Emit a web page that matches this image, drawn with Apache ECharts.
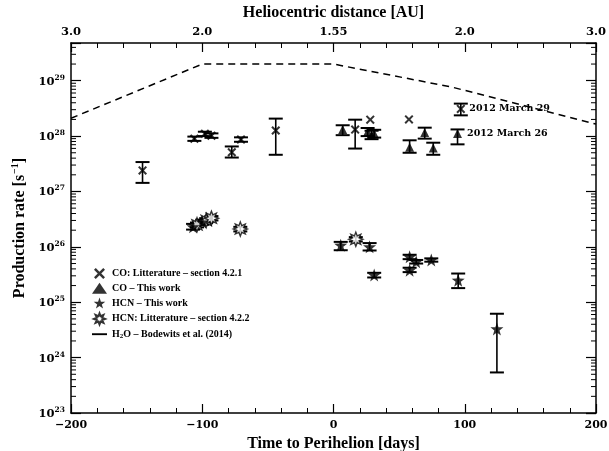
<!DOCTYPE html>
<html><head><meta charset="utf-8">
<script src="https://cdn.jsdelivr.net/npm/echarts@6/dist/echarts.min.js"></script>
<style>html,body{margin:0;padding:0;background:#fff}#c{width:609px;height:451px}</style>
</head><body><div id="c"></div><script>
// ---- axis ticks / labels ----
const dayTicks = [-200, -100, 0, 100, 200];
const topTickLabels = ['3.0', '2.0', '1.55', '2.0', '3.0'];
const yDecades = [23, 24, 25, 26, 27, 28, 29];
const yMin = 1e23, yMax = 4.8e29;

// ---- CO: literature (crosses) ----
const coLitDays = [-145.5, -106, -98, -93, -77.5, -70.5, -44, 16.5, 28, 57.5, 97];
const coLitVals = [2.4e27, 9.0e27, 1.1e28, 1.02e28, 5.1e27, 8.7e27, 1.26e28, 1.31e28, 1.98e28, 2.0e28, 3.1e28];
const coLitLow  = [1.43e27, 8.2e27, 1.0e28, 9.3e27, 4.1e27, 7.9e27, 4.6e27, 5.96e27, null, null, 2.37e28];
const coLitHigh = [3.4e27, 9.8e27, 1.2e28, 1.12e28, 6.5e27, 9.5e27, 2.07e28, 1.98e28, null, null, 3.86e28];

// ---- CO: this work (triangles) ----
const coDays = [7, 26, 29, 31, 58, 69.5, 76, 94.5];
const coVals = [1.31e28, 1.2e28, 1.05e28, 1.12e28, 6.3e27, 1.16e28, 6.1e27, 1.11e28];
const coLow  = [1.04e28, 1.0e28, 8.8e27, 9.4e27, 5.0e27, 9.0e27, 4.6e27, 7.1e27];
const coHigh = [1.57e28, 1.4e28, 1.25e28, 1.3e28, 8.4e27, 1.42e28, 7.6e27, 1.32e28];

// ---- HCN: this work (filled stars) ----
const hcnDays = [-107, -100, 5.5, 27.5, 31, 58, 58, 63, 74.5, 95, 124.5];
const hcnVals = [2.3e26, 2.8e26, 1.07e26, 1.0e26, 3.1e25, 6.6e25, 3.8e25, 5.4e25, 5.8e25, 2.5e25, 3.3e24];
const hcnLow  = [2.05e26, 2.5e26, 8.7e25, 8.6e25, 2.8e25, 6.0e25, 3.5e25, 5.0e25, 5.4e25, 1.8e25, 5.4e23];
const hcnHigh = [2.6e26, 3.1e26, 1.23e26, 1.17e26, 3.4e25, 7.2e25, 4.2e25, 5.8e25, 6.2e25, 3.3e25, 6.2e24];

// ---- HCN: literature (open stars) ----
const hcnLitDays = [-104, -97, -93, -71, 17];
const hcnLitVals = [2.5e26, 3.0e26, 3.3e26, 2.1e26, 1.37e26];
const hcnLitLow  = [2.25e26, 2.7e26, 3.0e26, 1.9e26, 1.25e26];
const hcnLitHigh = [2.75e26, 3.3e26, 3.6e26, 2.3e26, 1.5e26];

// ---- H2O: Bodewits et al. (2014) (dashed) ----
const h2oDays = [-200, -100, 0, 90, 200];
const h2oVals = [2.1e28, 2.0e29, 2.0e29, 7.7e28, 1.65e28];

// ---- annotations ----
const noteMar29 = '2012 March 29';
const noteMar26 = '2012 March 26';

const names = {
  coLit: 'CO: Litterature – section 4.2.1',
  co: 'CO – This work',
  hcn: 'HCN – This work',
  hcnLit: 'HCN: Litterature – section 4.2.2',
  h2o: 'H2O – Bodewits et al. (2014)'
};

const FONT = '"Liberation Serif", "DejaVu Serif", serif';
const NUMFONT = '"DejaVu Serif", "Liberation Serif", serif';

function starPath(n, ro, ri) {
  let d = '';
  for (let i = 0; i < 2 * n; i++) {
    const r = i % 2 ? ri : ro;
    const a = -Math.PI / 2 + i * Math.PI / n;
    d += (i ? 'L' : 'M') + (50 + r * Math.cos(a)).toFixed(2) + ',' + (50 + r * Math.sin(a)).toFixed(2);
  }
  return 'path://' + d + 'Z';
}
const crossPath = 'path://M0,1.6L1.6,0L5,3.4L8.4,0L10,1.6L6.6,5L10,8.4L8.4,10L5,6.6L1.6,10L0,8.4L3.4,5Z';
const star5 = starPath(5, 50, 20);
const star8 = starPath(8, 50, 26);

function pts(days, vals) { return days.map((d, i) => [d, vals[i]]); }

function errSeries(days, lo, hi) {
  const data = [];
  days.forEach((d, i) => { if (lo[i] != null) data.push([d, lo[i], hi[i]]); });
  return {
    type: 'custom', silent: true, z: 3, data: data,
    encode: { x: 0, y: [1, 2] },
    renderItem: function (params, api) {
      const x = api.value(0);
      const p1 = api.coord([x, api.value(1)]);
      const p2 = api.coord([x, api.value(2)]);
      const w = 7;
      const st = { stroke: '#000', lineWidth: 1.6 };
      return { type: 'group', children: [
        { type: 'line', shape: { x1: p1[0], y1: p1[1], x2: p2[0], y2: p2[1] }, style: st },
        { type: 'line', shape: { x1: p1[0] - w, y1: p1[1], x2: p1[0] + w, y2: p1[1] }, style: { stroke: '#000', lineWidth: 2 } },
        { type: 'line', shape: { x1: p2[0] - w, y1: p2[1], x2: p2[0] + w, y2: p2[1] }, style: { stroke: '#000', lineWidth: 2 } }
      ]};
    }
  };
}

// minor log ticks (2..9 x 10^n) on both vertical frame sides
const minorTickVals = [];
yDecades.forEach(e => { for (let k = 2; k <= 9; k++) { const v = k * Math.pow(10, e); if (v < yMax) minorTickVals.push([-200, v]); } });
const minorTickSeries = {
  type: 'custom', silent: true, z: 10, data: minorTickVals, encode: { x: 0, y: 1 },
  renderItem: function (params, api) {
    const cs = params.coordSys;
    const p = api.coord([api.value(0), api.value(1)]);
    const st = { stroke: '#000', lineWidth: 1 };
    return { type: 'group', children: [
      { type: 'line', shape: { x1: cs.x, y1: p[1], x2: cs.x + 5, y2: p[1] }, style: st },
      { type: 'line', shape: { x1: cs.x + cs.width - 5, y1: p[1], x2: cs.x + cs.width, y2: p[1] }, style: st }
    ]};
  }
};

function yLabel(v) {
  const e = Math.round(Math.log10(v));
  if (Math.abs(Math.log10(v) - e) > 1e-6) return '';
  return '{b|10}{s|' + e + '}';
}
function dayLabel(v) {
  if (dayTicks.indexOf(v) < 0) return '';
  return v < 0 ? '\u2212' + Math.abs(v) : String(v);
}
function topLabel(v) {
  const i = dayTicks.indexOf(v);
  return i < 0 ? '' : topTickLabels[i];
}

const axisLineStyle = { show: true, onZero: false, lineStyle: { color: '#000', width: 1.5 } };
const xCommon = {
  type: 'value', min: -200, max: 200, interval: 100,
  axisLine: axisLineStyle,
  axisTick: { show: true, inside: true, length: 9, lineStyle: { color: '#000', width: 1.2 } },
  minorTick: { show: true, splitNumber: 5, length: 5, lineStyle: { color: '#000', width: 1 } },
  splitLine: { show: false }, minorSplitLine: { show: false }
};
const yCommon = {
  type: 'log', logBase: 10, min: yMin, max: yMax,
  axisLine: axisLineStyle,
  axisTick: { show: true, inside: true, length: 10, lineStyle: { color: '#000', width: 1.2 } },
  splitLine: { show: false }
};

const chart = echarts.init(document.getElementById('c'), null, { renderer: 'canvas' });
const labelStyle = { fontFamily: NUMFONT, fontWeight: 'bold', fontSize: 9.5, color: '#000', opacity: 1, textBorderWidth: 0 };

const coLitData = pts(coLitDays, coLitVals);
coLitData[coLitData.length - 1] = { value: coLitData[coLitData.length - 1], label: Object.assign({ show: true, position: 'right', distance: 4, formatter: noteMar29 }, labelStyle) };
const coData = pts(coDays, coVals);
coData[coData.length - 1] = { value: coData[coData.length - 1], label: Object.assign({ show: true, position: 'right', distance: 5, formatter: noteMar26 }, labelStyle) };

chart.setOption({
  backgroundColor: '#fff',
  animation: false,
  grid: { left: 71, right: 13, top: 43, bottom: 38, containLabel: false, outerBoundsMode: 'none' },
  xAxis: [
    Object.assign({}, xCommon, {
      position: 'bottom',
      name: 'Time to Perihelion [days]', nameLocation: 'middle', nameGap: 18,
      nameTextStyle: { fontFamily: FONT, fontWeight: 'bold', fontSize: 16, color: '#000' },
      axisLabel: { formatter: dayLabel, margin: 7, fontFamily: NUMFONT, fontWeight: 'bold', fontSize: 11, color: '#000' }
    }),
    Object.assign({}, xCommon, {
      position: 'top',
      name: 'Heliocentric distance [AU]', nameLocation: 'middle', nameGap: 21,
      nameTextStyle: { fontFamily: FONT, fontWeight: 'bold', fontSize: 16, color: '#000' },
      axisLabel: { formatter: topLabel, margin: 5, fontFamily: NUMFONT, fontWeight: 'bold', fontSize: 11.5, color: '#000' }
    })
  ],
  yAxis: [
    Object.assign({}, yCommon, {
      position: 'left',
      name: '{n|Production rate [s}{s|\u22121}{n|]}', nameLocation: 'middle', nameGap: 31, nameRotate: 90,
      nameTextStyle: { rich: {
        n: { fontFamily: FONT, fontWeight: 'bold', fontSize: 16, color: '#000', verticalAlign: 'bottom' },
        s: { fontFamily: FONT, fontWeight: 'bold', fontSize: 10, color: '#000', verticalAlign: 'bottom', padding: [0, 0, 7, 1] }
      } },
      axisLabel: { formatter: yLabel, margin: 6, rich: {
        b: { fontFamily: NUMFONT, fontWeight: 'bold', fontSize: 11.5, color: '#000', verticalAlign: 'bottom' },
        s: { fontFamily: NUMFONT, fontWeight: 'bold', fontSize: 7.5, color: '#000', verticalAlign: 'bottom', padding: [0, 0, 6, 0] }
      } }
    }),
    Object.assign({}, yCommon, { position: 'right', axisLabel: { show: false } })
  ],
  legend: {
    orient: 'vertical', left: 87, top: 263, itemWidth: 15, itemHeight: 11, itemGap: 3.8,
    selectedMode: false,
    data: [
      { name: names.coLit },
      { name: names.co },
      { name: names.hcn },
      { name: names.hcnLit },
      { name: names.h2o, icon: 'path://M0,0L20,0L20,2.5L0,2.5Z', itemStyle: { color: '#000' } }
    ],
    formatter: function (name) {
      if (name === names.h2o) return '{n|H}{sub|2}{n|O – Bodewits et al. (2014)}';
      return '{n|' + name + '}';
    },
    textStyle: { rich: {
      n: { fontFamily: FONT, fontWeight: 'bold', fontSize: 10, color: '#000' },
      sub: { fontFamily: FONT, fontWeight: 'bold', fontSize: 7, color: '#000', verticalAlign: 'bottom', padding: [4, 0, 0, 0] }
    } }
  },
  series: [
    minorTickSeries,
    { name: names.h2o, type: 'line', data: pts(h2oDays, h2oVals), symbol: 'none', z: 1,
      lineStyle: { color: '#000', width: 1.5, type: [7, 5] }, itemStyle: { color: '#000' } },
    errSeries(coLitDays, coLitLow, coLitHigh),
    errSeries(coDays, coLow, coHigh),
    errSeries(hcnDays, hcnLow, hcnHigh),
    errSeries(hcnLitDays, hcnLitLow, hcnLitHigh),
    { name: names.coLit, type: 'scatter', data: coLitData, symbol: crossPath, symbolSize: 9, z: 5,
      itemStyle: { color: '#000' } },
    { name: names.co, type: 'scatter', data: coData, symbol: 'triangle', symbolSize: 9, z: 5,
      itemStyle: { color: '#000' } },
    { name: names.hcnLit, type: 'scatter', data: pts(hcnLitDays, hcnLitVals), symbol: star8, symbolSize: 14, z: 5,
      itemStyle: { color: '#fff', borderColor: '#000', borderWidth: 1.4 } },
    { name: names.hcn, type: 'scatter', data: pts(hcnDays, hcnVals), symbol: star5, symbolSize: 13, z: 6,
      itemStyle: { color: '#000' } }
  ]
});
</script></body></html>
